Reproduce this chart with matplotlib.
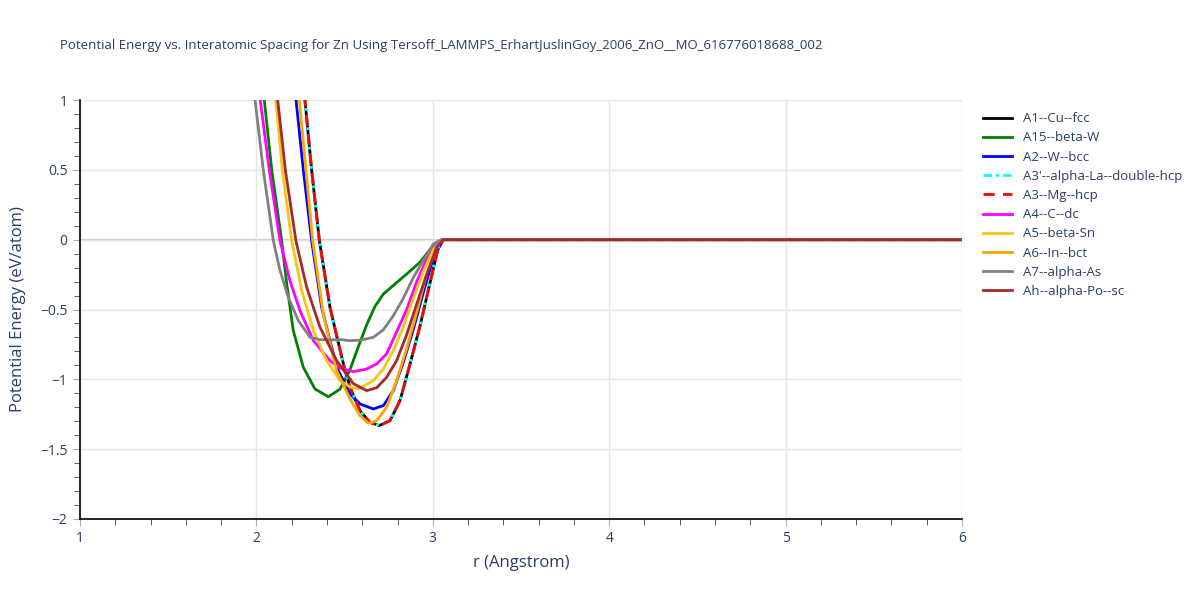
import matplotlib
matplotlib.use('Agg')
import matplotlib.pyplot as plt
from matplotlib.ticker import MultipleLocator
import numpy as np

plt.rcParams['font.family'] = ['Open Sans', 'DejaVu Sans']
TXT = '#2a3f5f'

# energy curves (r in Angstrom, E in eV/atom)
r_fcc = [2.18, 2.270, 2.313, 2.357, 2.417, 2.493, 2.531, 2.587, 2.644, 2.697, 2.757, 2.814, 2.871, 2.927, 2.984, 3.031, 3.06, 6.0]
e_fcc = [2.0, 1.067, 0.5, -0.007, -0.484, -0.890, -1.057, -1.224, -1.308, -1.331, -1.296, -1.153, -0.890, -0.620, -0.310, -0.055, 0.0, 0.0]

r_bw = [1.95, 2.039, 2.087, 2.143, 2.172, 2.209, 2.266, 2.332, 2.408, 2.474, 2.531, 2.568, 2.625, 2.672, 2.720, 2.786, 2.852, 2.927, 2.994, 3.05, 6.0]
e_bw = [2.0, 1.067, 0.5, -0.007, -0.317, -0.651, -0.914, -1.069, -1.125, -1.070, -0.930, -0.800, -0.610, -0.478, -0.389, -0.317, -0.246, -0.162, -0.055, 0.0, 0.0]

r_bcc = [2.13, 2.219, 2.266, 2.313, 2.370, 2.455, 2.531, 2.587, 2.663, 2.720, 2.776, 2.833, 2.890, 2.946, 3.003, 3.06, 6.0]
e_bcc = [2.0, 1.067, 0.5, -0.007, -0.485, -0.914, -1.105, -1.176, -1.212, -1.188, -1.081, -0.878, -0.640, -0.380, -0.130, 0.0, 0.0]

r_dhcp = list(r_fcc)
e_dhcp = list(e_fcc)
r_hcp = list(r_fcc)
e_hcp = list(e_fcc)

r_dc = [1.92, 2.015, 2.073, 2.134, 2.190, 2.247, 2.323, 2.417, 2.474, 2.549, 2.625, 2.682, 2.738, 2.795, 2.852, 2.909, 2.965, 3.022, 3.06, 6.0]
e_dc = [2.0, 1.067, 0.5, -0.007, -0.294, -0.508, -0.723, -0.866, -0.920, -0.945, -0.926, -0.890, -0.818, -0.660, -0.500, -0.300, -0.140, -0.020, 0.0, 0.0]

r_sn = [2.01, 2.105, 2.147, 2.200, 2.257, 2.323, 2.398, 2.474, 2.531, 2.580, 2.663, 2.720, 2.776, 2.833, 2.890, 2.946, 3.003, 3.06, 6.0]
e_sn = [2.0, 1.067, 0.5, -0.007, -0.365, -0.651, -0.866, -1.010, -1.055, -1.068, -1.009, -0.926, -0.795, -0.625, -0.420, -0.230, -0.070, 0.0, 0.0]

r_bct = [2.15, 2.238, 2.281, 2.319, 2.379, 2.455, 2.531, 2.587, 2.635, 2.682, 2.738, 2.795, 2.852, 2.909, 2.965, 3.022, 3.06, 6.0]
e_bct = [2.0, 1.067, 0.5, -0.007, -0.532, -0.938, -1.141, -1.260, -1.315, -1.296, -1.200, -1.009, -0.780, -0.520, -0.245, -0.050, 0.0, 0.0]

r_as = [1.88, 1.986, 2.039, 2.096, 2.134, 2.181, 2.238, 2.304, 2.360, 2.417, 2.474, 2.531, 2.587, 2.663, 2.720, 2.776, 2.833, 2.890, 2.946, 3.003, 3.05, 6.0]
e_as = [2.0, 1.067, 0.5, -0.007, -0.222, -0.413, -0.580, -0.699, -0.716, -0.718, -0.715, -0.723, -0.720, -0.699, -0.645, -0.545, -0.420, -0.270, -0.150, -0.031, 0.0, 0.0]

r_sc = [2.02, 2.115, 2.164, 2.224, 2.285, 2.361, 2.455, 2.549, 2.625, 2.682, 2.738, 2.795, 2.852, 2.909, 2.965, 3.022, 3.06, 6.0]
e_sc = [2.0, 1.067, 0.5, -0.007, -0.341, -0.628, -0.866, -1.030, -1.081, -1.060, -0.986, -0.866, -0.680, -0.460, -0.250, -0.055, 0.0, 0.0]

labels = ['A1--Cu--fcc', 'A15--beta-W', 'A2--W--bcc', "A3'--alpha-La--double-hcp",
          'A3--Mg--hcp', 'A4--C--dc', 'A5--beta-Sn', 'A6--In--bct', 'A7--alpha-As',
          'Ah--alpha-Po--sc']
series = [(r_fcc, e_fcc), (r_bw, e_bw), (r_bcc, e_bcc), (r_dhcp, e_dhcp), (r_hcp, e_hcp),
          (r_dc, e_dc), (r_sn, e_sn), (r_bct, e_bct), (r_as, e_as), (r_sc, e_sc)]
colors = ['black', 'green', 'blue', 'cyan', 'red', 'magenta', '#f5c518', 'orange', 'gray', 'brown']
styles = ['-', '-', '-', (0, (3, 1.5, 1, 1.5)), (0, (4, 3)), '-', '-', '-', '-', '-']

fig = plt.figure(figsize=(12, 6), dpi=100)
ax = fig.add_axes([80 / 1200, 1 - 519 / 600, 882 / 1200, 419 / 600])

for (r, e), lab, c, ls in zip(series, labels, colors, styles):
    ax.plot(r, e, color=c, linestyle=ls, lw=2, label=lab)

ax.set_xlim(1, 6)
ax.set_ylim(-2, 1)
ax.xaxis.set_major_locator(MultipleLocator(1))
ax.xaxis.set_minor_locator(MultipleLocator(0.2))
ax.yaxis.set_major_locator(MultipleLocator(0.5))
ax.yaxis.set_minor_locator(MultipleLocator(0.1))
ax.grid(True, which='major', color='#e5e5e5', lw=1)
ax.axhline(0, color='#cccccc', lw=1.5, zorder=0.5)
ax.set_axisbelow(True)

for s in ['top', 'right']:
    ax.spines[s].set_visible(False)
for s in ['left', 'bottom']:
    ax.spines[s].set_color('black')
    ax.spines[s].set_linewidth(1.2)

ax.tick_params(which='major', length=5, color='#aaaaaa', labelcolor=TXT, labelsize=10, pad=4)
ax.tick_params(which='minor', length=4, color='#444444')
yt = [1, 0.5, 0, -0.5, -1, -1.5, -2]
ax.set_yticks(yt)
ax.set_yticklabels(['1', '0.5', '0', '\u22120.5', '\u22121', '\u22121.5', '\u22122'])

ax.set_xlabel('r (Angstrom)', color=TXT, fontsize=12, labelpad=6)
ax.set_ylabel('Potential Energy (eV/atom)', color=TXT, fontsize=12, labelpad=10)

fig.text(60 / 1200, 1 - 46 / 600, 'Potential Energy vs. Interatomic Spacing for Zn Using '
         'Tersoff_LAMMPS_ErhartJuslinGoy_2006_ZnO__MO_616776018688_002',
         color=TXT, fontsize=9.5, va='center')

leg = ax.legend(loc='upper left', bbox_to_anchor=(985 / 882 - 80 / 882 - 0.008, 1 - 7 / 419),
                frameon=False, fontsize=9.5, handlelength=2.2, labelspacing=0.47,
                borderaxespad=0)
for t in leg.get_texts():
    t.set_color(TXT)

fig.savefig('out.png', dpi=100)
